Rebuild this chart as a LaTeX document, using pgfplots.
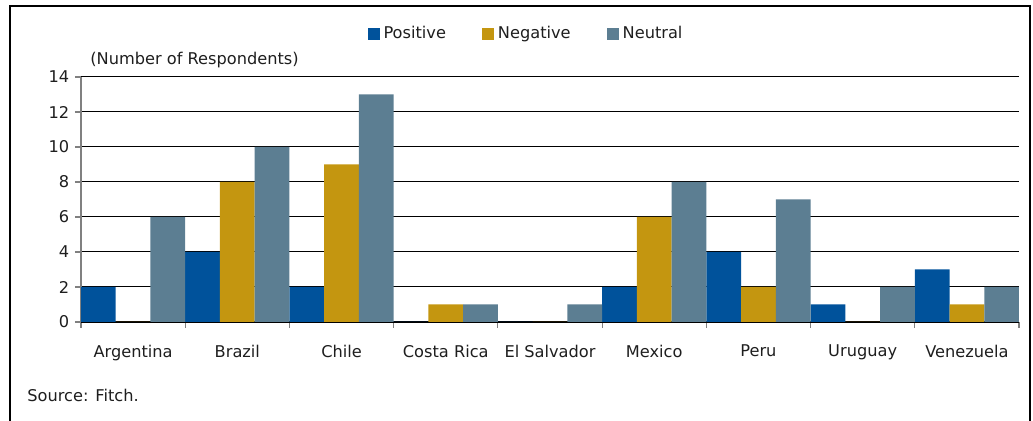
\documentclass[border=0pt]{standalone}
\usepackage{fontspec}
\setmainfont{DejaVu Sans}
\usepackage{pgfplots}
\pgfplotsset{compat=1.18}

\definecolor{posc}{RGB}{0,82,155}
\definecolor{negc}{RGB}{196,150,16}
\definecolor{neuc}{RGB}{92,126,146}
\definecolor{txt}{RGB}{30,30,30}

\begin{document}
\fontsize{8.1}{9.7}\selectfont
\begin{tikzpicture}
\useasboundingbox (0,0) rectangle (516.5pt,210.5pt);
% outer frame (bottom edge is cut off in the original)
\draw[line width=0.8pt, black] (5pt,-2pt) -- (5pt,207.5pt) -- (515pt,207.5pt) -- (515pt,-2pt);
\begin{axis}[
    at={(40.5pt,49.5pt)}, anchor=south west,
    scale only axis,
    width=469pt, height=122.5pt,
    xmin=-0.5, xmax=8.5,
    ymin=0, ymax=14,
    ytick={0,2,...,14},
    xtick={0,...,8},
    xticklabels={Argentina, Brazil, Chile, Costa Rica, El Salvador, Mexico, Peru, Uruguay, Venezuela},
    minor xtick={-0.5,0.5,...,8.5},
    major x tick style={draw=none},
    minor tick length=3pt,
    major tick length=3pt,
    tick align=outside,
    axis x line*=bottom,
    axis y line*=left,
    x axis line style={black, line width=0.6pt, -},
    y axis line style={gray, line width=0.6pt, -},
    y tick style={gray, line width=0.6pt},
    minor x tick style={gray, line width=0.6pt},
    ymajorgrids,
    grid style={black, line width=0.5pt},
    tick label style={font=\fontsize{8.1}{9.7}\selectfont, text=txt},
    xticklabel style={yshift=-5.5pt},
    /pgf/number format/assume math mode=true,
    ybar=0pt,
    bar width=0.3333,
    legend columns=-1,
    legend style={draw=none, at={(0.4755,1.176)}, anchor=center,
        font=\fontsize{8.1}{9.7}\selectfont, text=txt,
        /tikz/every even column/.append style={column sep=16pt}},
    legend image code/.code={\fill[#1] (0pt,-3pt) rectangle (6pt,3pt);},
]
\addplot[fill=posc, draw=none, bar shift=-0.3333] coordinates {
    (0,2) (1,4) (2,2) (3,0) (4,0) (5,2) (6,4) (7,1) (8,3)};
\addplot[fill=negc, draw=none, bar shift=0] coordinates {
    (0,0) (1,8) (2,9) (3,1) (4,0) (5,6) (6,2) (7,0) (8,1)};
\addplot[fill=neuc, draw=none, bar shift=0.3333] coordinates {
    (0,6) (1,10) (2,13) (3,1) (4,1) (5,8) (6,7) (7,2) (8,2)};
\legend{Positive, Negative, Neutral}
\end{axis}
\node[anchor=west, text=txt, inner sep=0pt] at (45pt,180.5pt) {(Number of Respondents)};
\node[anchor=west, text=txt, inner sep=0pt] at (13.5pt,13pt) {Source: Fitch.};
\end{tikzpicture}
\end{document}
